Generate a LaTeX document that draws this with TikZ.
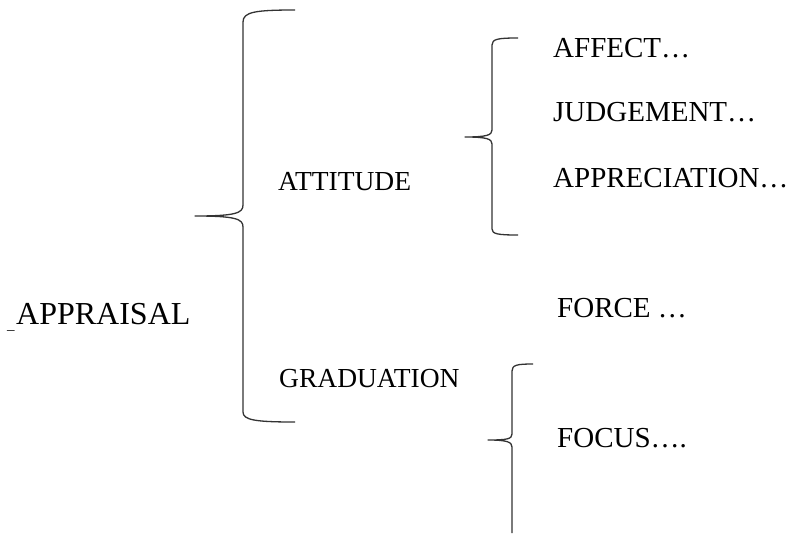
\documentclass[tikz,border=0pt]{standalone}
\usepackage{fontspec}
\setmainfont{Liberation Serif}
\begin{document}
\begin{tikzpicture}[x=1pt,y=-1pt,
  brace/.style={line width=1.3pt,draw=black!80,line join=round},
  label/.style={anchor=base west,inner sep=0pt,font=\fontsize{27.5}{30}\selectfont},
  leaf/.style={label,font=\fontsize{29}{32}\selectfont}]
\useasboundingbox (0,0) rectangle (797,533);

% root term with its small leading underscore
\node[anchor=base west,inner sep=0pt,font=\fontsize{15}{17}\selectfont] (us) at (7,329) {\_};
\node[anchor=base west,inner sep=0pt,font=\fontsize{32}{35}\selectfont] (appraisal) at (16,324) {APPRAISAL};

% large brace grouping the two subsystems
\draw[brace] (295,10) .. controls (255,10) and (243,12) .. (243,22) -- (243,205)
  .. controls (243,213) and (236,216) .. (195,216)
  .. controls (236,216) and (243,219) .. (243,227) -- (243,412)
  .. controls (243,420) and (255,422) .. (295,422);

\node[label] (attitude) at (278,190) {ATTITUDE};
\node[label] (graduation) at (279,387) {GRADUATION};

% brace for the attitude subtypes
\draw[brace] (518,38) .. controls (498,38) and (492,39) .. (492,45) -- (492,130)
  .. controls (492,135) and (487,137) .. (465,137)
  .. controls (487,137) and (492,139) .. (492,144) -- (492,229)
  .. controls (492,234) and (498,235) .. (518,235);

\node[leaf] (affect) at (553,57) {AFFECT…};
\node[leaf] (judgement) at (553,121) {JUDGEMENT…};
\node[leaf] (appreciation) at (553,187) {APPRECIATION…};

\node[leaf] (force) at (557,317) {FORCE …};

% brace for the graduation subtypes (runs off the lower edge)
\draw[brace] (533,364) .. controls (517,364) and (512,365) .. (512,371) -- (512,434)
  .. controls (512,439) and (507,440) .. (488,440)
  .. controls (507,440) and (512,442) .. (512,447) -- (512,533);

\node[leaf] (focus) at (557,447) {FOCUS….};
\end{tikzpicture}
\end{document}
